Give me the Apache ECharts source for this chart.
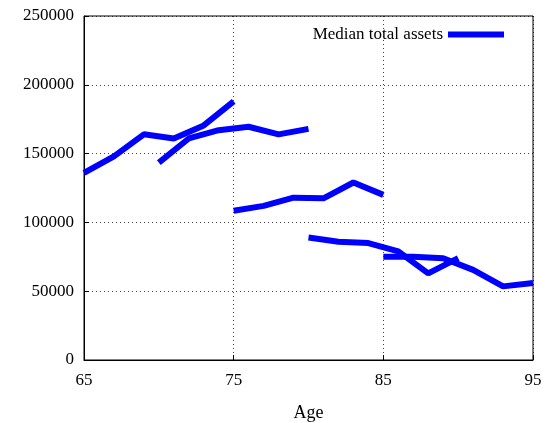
<!DOCTYPE html><html><head><meta charset="utf-8">
<script src="https://cdn.jsdelivr.net/npm/echarts@6/dist/echarts.min.js"></script>
<style>body{margin:0}#c{width:547px;height:423px}</style></head><body><div id="c"></div><script>
const s1=[[65,136000],[67,148000],[69,164000],[71,161000],[73,170500],[75,188000]];
const s2=[[70,143500],[72,161000],[74,167000],[76,169500],[78,164000],[80,168000]];
const s3=[[75,108500],[77,112000],[79,118000],[81,117500],[83,129000],[85,120000]];
const s4=[[80,89000],[82,86000],[84,85000],[86,79000],[88,63000],[90,74000]];
const s5=[[85,75000],[87,75000],[89,74000],[91,65500],[93,53500],[95,56000]];
const F='Liberation Serif';
const mk=(d,n)=>({type:'line',name:n,data:d,symbol:'none',lineStyle:{width:6,color:'#0000ff'},color:'#0000ff',silent:true});
const c=echarts.init(document.getElementById('c'));
c.setOption({animation:false,
grid:{left:84,right:14,top:16,bottom:63,outerBoundsMode:'none',containLabel:false},
legend:{data:['Median total assets'],right:38,top:21,itemWidth:56,itemHeight:6,icon:'rect',align:'right',textStyle:{fontFamily:F,fontSize:17,color:'#000'}},
xAxis:{type:'value',min:65,max:95,interval:10,name:'Age',nameLocation:'middle',nameGap:44,nameTextStyle:{fontFamily:F,fontSize:18,color:'#000'},
axisLine:{lineStyle:{color:'#000'}},axisTick:{inside:true,lineStyle:{color:'#000'}},
axisLabel:{fontFamily:F,fontSize:17,color:'#000',margin:12},splitLine:{show:true,lineStyle:{type:[1,3],color:'#444'}}},
yAxis:{type:'value',min:0,max:250000,interval:50000,axisLine:{show:true,lineStyle:{color:'#000'}},axisTick:{inside:true,lineStyle:{color:'#000'}},
axisLabel:{fontFamily:F,fontSize:17,color:'#000',margin:10,formatter:v=>String(v)},splitLine:{show:true,lineStyle:{type:[1,3],color:'#444'}}},
series:[mk(s1,'Median total assets'),mk(s2,'b'),mk(s3,'c'),mk(s4,'d'),mk(s5,'e'),
{type:'line',data:[],markArea:{silent:true,itemStyle:{color:'none',borderColor:'#000',borderWidth:1},data:[[{xAxis:65,yAxis:0},{xAxis:95,yAxis:250000}]]}}]
});
</script></body></html>
